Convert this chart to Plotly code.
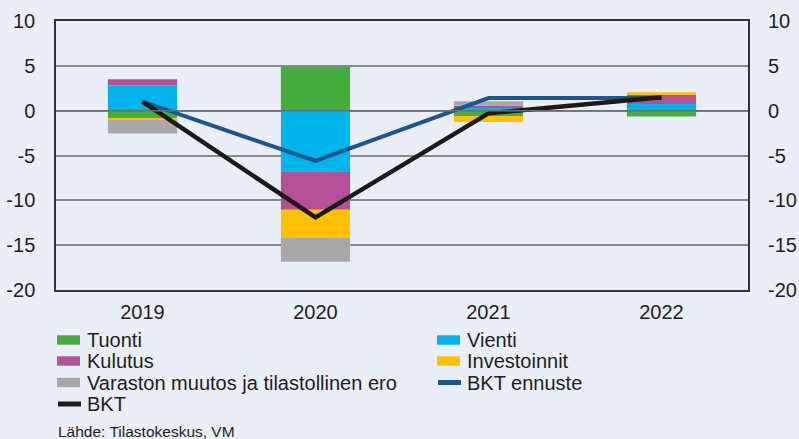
import plotly.graph_objects as go

years = ["2019", "2020", "2021", "2022"]
tuonti = [-0.85, 4.9, -0.6, -0.65]
vienti = [2.8, -6.75, 0.35, 0.75]
kulutus = [0.7, -4.3, 0.2, 1.0]
investoinnit = [-0.2, -3.1, -0.65, 0.3]
varasto = [-1.5, -2.7, 0.5, 0.0]
bkt_ennuste = [1.0, -5.6, 1.4, 1.4]
bkt = [1.0, -11.9, -0.3, 1.5]
y_ticks = [10, 5, 0, -5, -10, -15, -20]
y_ticktext = ["10", "5", "0", "-5", "-10", "-15", "-20"]

FONT = "Liberation Sans, Arial, sans-serif"
BG = "#EAEEF8"
TXT = "#1E1E1E"

# plot area in pixels
W, H = 799, 439
L, R, T, B = 56, 51, 21, 149
PW, PH = W - L - R, H - T - B


def px(x):
    return (x - L) / PW


def py(y):
    return (H - B - y) / PH


fig = go.Figure()
bars = [
    ("Tuonti", tuonti, "#45AD3D"),
    ("Vienti", vienti, "#00B4EC"),
    ("Kulutus", kulutus, "#B44F98"),
    ("Investoinnit", investoinnit, "#FFC000"),
    ("Varaston muutos ja tilastollinen ero", varasto, "#A8A8A8"),
]
for name, vals, col in bars:
    fig.add_trace(go.Bar(x=years, y=vals, name=name, marker=dict(color=col, line=dict(width=0)),
                         width=0.4, showlegend=False))
lines = [
    ("BKT ennuste", bkt_ennuste, "#1B5592", 4),
    ("BKT", bkt, "#1A1A1A", 4.5),
]
for name, vals, col, w in lines:
    fig.add_trace(go.Scatter(x=years, y=vals, name=name, mode="lines",
                             line=dict(color=col, width=w), showlegend=False))
fig.add_trace(go.Scatter(x=years, y=bkt, yaxis="y2", mode="lines", showlegend=False,
                         line=dict(width=0), hoverinfo="skip", opacity=0))

fig.add_hline(y=0, line=dict(color="#6E6E6E", width=1.5), layer="above")

# manual legend (two columns, row-major)
legend_items = [(n, "bar", c) for n, _, c in bars] + [(n, "line", c) for n, _, c, _ in lines]
col_x = [57, 437]
row_y = [340, 361, 382.5, 404]
for i, (name, kind, col) in enumerate(legend_items):
    cx = col_x[i % 2]
    cy = row_y[i // 2]
    if kind == "bar":
        fig.add_shape(type="rect", xref="paper", yref="paper",
                      x0=px(cx), x1=px(cx + 23), y0=py(cy - 4.7), y1=py(cy + 4.7),
                      fillcolor=col, line=dict(width=0))
    else:
        fig.add_shape(type="line", xref="paper", yref="paper",
                      x0=px(cx + 1), x1=px(cx + 24), y0=py(cy), y1=py(cy),
                      line=dict(color=col, width=5))
    fig.add_annotation(text=name, xref="paper", yref="paper", x=px(cx + 28), y=py(cy),
                       xanchor="left", yanchor="middle", showarrow=False,
                       font=dict(family=FONT, size=20, color=TXT))

fig.add_annotation(text="Lähde: Tilastokeskus, VM", xref="paper", yref="paper",
                   x=px(56), y=py(431), xanchor="left", yanchor="middle", showarrow=False,
                   font=dict(family=FONT, size=15.5, color=TXT))

axis_font = dict(family=FONT, size=20, color=TXT)
fig.update_layout(
    width=W, height=H,
    paper_bgcolor=BG, plot_bgcolor=BG,
    margin=dict(l=L, r=R, t=T, b=B, autoexpand=False),
    barmode="relative",
    showlegend=False,
    font=dict(family=FONT, size=17, color=TXT),
    xaxis=dict(showgrid=False, showline=True, linecolor="#333333", linewidth=1.5, mirror=True,
               ticks="", tickfont=axis_font, fixedrange=True, ticklabelstandoff=3),
    yaxis=dict(range=[-20, 10], tickvals=y_ticks, ticktext=y_ticktext, showgrid=True,
               gridcolor="#8A8A8A", gridwidth=1.5,
               zeroline=False, showline=True, linecolor="#333333", linewidth=1.5, mirror=True,
               ticks="", tickfont=axis_font, ticklabelstandoff=15),
    yaxis2=dict(range=[-20, 10], tickvals=y_ticks, ticktext=y_ticktext, overlaying="y", side="right",
                showgrid=False, zeroline=False, showline=False, ticks="", tickfont=axis_font,
                ticklabelstandoff=19),
)
fig.write_html("out.html", config={"displayModeBar": False},
               post_script="document.body.style.margin='0';document.body.style.background='#EAEEF8';")
